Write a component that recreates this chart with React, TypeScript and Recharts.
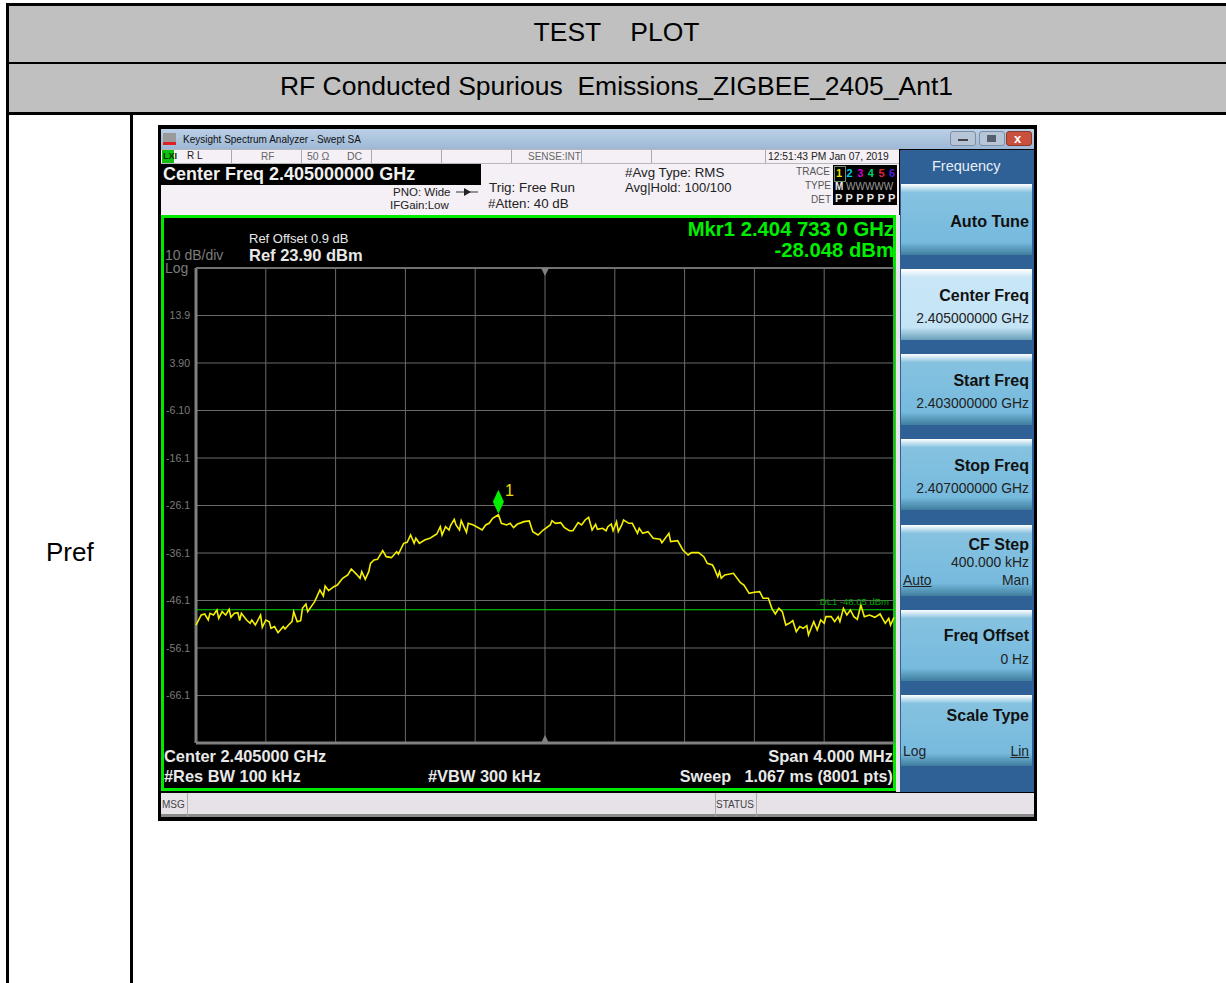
import { LineChart, Line, XAxis, YAxis, CartesianGrid, ReferenceLine, ReferenceDot } from "recharts";

const traceFreq = [
  2403.0, 2403.03, 2403.05, 2403.07, 2403.08, 2403.1, 2403.12, 2403.13, 2403.15, 2403.17, 2403.19, 2403.2, 2403.22, 2403.24, 2403.25, 2403.26, 2403.29, 2403.31, 2403.32, 2403.34,
  2403.37, 2403.38, 2403.4, 2403.42, 2403.43, 2403.45, 2403.47, 2403.5, 2403.51, 2403.53, 2403.55, 2403.56, 2403.58, 2403.6, 2403.61, 2403.63, 2403.64, 2403.68, 2403.71, 2403.73,
  2403.74, 2403.76, 2403.79, 2403.81, 2403.84, 2403.87, 2403.89, 2403.92, 2403.94, 2403.95, 2403.97, 2403.99, 2404.0, 2404.02, 2404.04, 2404.07, 2404.09, 2404.12, 2404.15, 2404.16,
  2404.19, 2404.21, 2404.23, 2404.25, 2404.26, 2404.28, 2404.31, 2404.34, 2404.37, 2404.38, 2404.4, 2404.41, 2404.43, 2404.45, 2404.46, 2404.48, 2404.49, 2404.51, 2404.52, 2404.55,
  2404.56, 2404.59, 2404.64, 2404.66, 2404.68, 2404.7, 2404.733, 2404.75, 2404.78, 2404.8, 2404.82, 2404.84, 2404.88, 2404.91, 2404.93, 2404.96, 2404.99, 2405.03, 2405.04, 2405.06,
  2405.09, 2405.11, 2405.14, 2405.16, 2405.19, 2405.21, 2405.23, 2405.25, 2405.27, 2405.29, 2405.3, 2405.33, 2405.35, 2405.36, 2405.38, 2405.39, 2405.41, 2405.42, 2405.44, 2405.45,
  2405.48, 2405.5, 2405.53, 2405.54, 2405.56, 2405.59, 2405.62, 2405.66, 2405.67, 2405.71, 2405.72, 2405.76, 2405.79, 2405.82, 2405.84, 2405.88, 2405.91, 2405.93, 2405.96, 2405.97,
  2405.99, 2406.0, 2406.01, 2406.03, 2406.08, 2406.12, 2406.14, 2406.17, 2406.2, 2406.23, 2406.25, 2406.28, 2406.3, 2406.32, 2406.34, 2406.36, 2406.38, 2406.4, 2406.42, 2406.44,
  2406.46, 2406.48, 2406.5, 2406.51, 2406.54, 2406.56, 2406.58, 2406.6, 2406.61, 2406.64, 2406.66, 2406.68, 2406.69, 2406.71, 2406.73, 2406.75, 2406.77, 2406.79, 2406.81, 2406.83,
  2406.86, 2406.89, 2406.92, 2406.95, 2406.97, 2406.98, 2407.0,
];

const traceLevel = [
  -51.26, -49.15, -48.94, -50.2, -48.8, -49.15, -48.1, -49.86, -48.45, -49.15, -47.96, -49.64, -48.8, -48.66, -50.35, -48.8, -50.2, -50.9, -50.2, -51.26,
  -49.15, -51.75, -50.2, -50.56, -51.96, -51.6, -52.87, -51.6, -52.1, -51.26, -50.56, -48.45, -50.56, -50.35, -47.75, -46.84, -48.45, -46.35, -43.89, -45.15,
  -43.05, -44.03, -43.19, -42.84, -41.43, -40.73, -39.47, -40.59, -41.43, -40.03, -41.64, -40.03, -38.28, -37.57, -37.43, -35.61, -36.87, -37.08, -35.82, -36.31,
  -34.06, -33.85, -32.31, -34.06, -33.01, -34.06, -33.36, -33.01, -32.31, -32.1, -30.56, -32.31, -30.56, -31.26, -30.2, -29.01, -30.2, -31.26, -29.29, -31.75,
  -29.85, -30.2, -31.26, -30.2, -29.85, -28.8, -28.05, -29.85, -30.2, -29.85, -30.77, -30.06, -29.5, -29.36, -31.61, -32.31, -31.26, -30.2, -29.29, -29.85,
  -29.71, -30.7, -31.4, -31.4, -29.71, -30.2, -29.15, -28.59, -31.26, -30.06, -31.12, -30.9, -31.4, -30.55, -30.0, -31.4, -29.5, -31.6, -30.2, -29.15,
  -29.85, -29.85, -31.96, -30.9, -31.96, -31.6, -33.01, -33.22, -33.92, -31.96, -33.71, -33.5, -35.47, -36.52, -36.03, -36.03, -36.87, -38.27, -38.63, -39.33,
  -41.08, -40.03, -41.43, -40.73, -40.38, -42.34, -42.83, -44.59, -44.38, -44.24, -45.64, -45.64, -47.75, -48.94, -47.75, -48.45, -51.26, -50.9, -50.34, -52.66,
  -51.6, -51.96, -51.4, -53.36, -50.55, -52.31, -50.2, -50.9, -49.5, -49.5, -50.55, -49.5, -50.55, -47.75, -49.15, -48.1, -49.5, -50.06, -47.04, -49.5,
  -49.15, -49.64, -48.94, -50.9, -49.85, -51.26, -49.64,
];

const freqTicks = [2403, 2403.4, 2403.8, 2404.2, 2404.6, 2405, 2405.4, 2405.8, 2406.2, 2406.6, 2407];
const levelTicks = [23.9, 13.9, 3.9, -6.1, -16.1, -26.1, -36.1, -46.1, -56.1, -66.1, -76.1];
const levelLabels = ["", "13.9", "3.90", "-6.10", "-16.1", "-26.1", "-36.1", "-46.1", "-56.1", "-66.1", ""];

const softKeys = [
  { title: "Auto Tune", top: 184, selected: false },
  { title: "Center Freq", top: 269, selected: true },
  { title: "Start Freq", top: 354, selected: false },
  { title: "Stop Freq", top: 439, selected: false },
  { title: "CF Step", top: 525, selected: false },
  { title: "Freq Offset", top: 610, selected: false },
  { title: "Scale Type", top: 695, selected: false },
];

const chartData = traceFreq.map((freq, i) => ({ freq, level: traceLevel[i] }));

const SANS = "'Liberation Sans', Arial, sans-serif";

// y is the vertical centre of the line of text
function Txt({ x, y, size = 12, color = "#000", bold = false, right, children }: any) {
  const lh = Math.round(size * 0.85);
  const style: any = {
    position: "absolute",
    top: y - lh / 2,
    fontSize: size,
    lineHeight: `${lh}px`,
    color,
    fontWeight: bold ? 700 : 400,
    whiteSpace: "pre",
  };
  if (right !== undefined) style.right = 1226 - right;
  else style.left = x;
  return <div style={style}>{children}</div>;
}

function Box({ x, y, w, h, bg }: any) {
  return <div style={{ position: "absolute", left: x, top: y, width: w, height: h, background: bg }} />;
}

function Diamond({ cx, cy }: any) {
  // marker sits just above the peak
  return <polygon points={`${cx},${cy - 25} ${cx + 5.5},${cy - 13} ${cx},${cy - 1} ${cx - 5.5},${cy - 13}`} fill="#00f000" />;
}

function TopArrow({ cx, cy }: any) {
  return <polygon points={`${cx - 4},${cy} ${cx + 4},${cy} ${cx},${cy + 8}`} fill="#808080" />;
}

function BottomArrow({ cx, cy }: any) {
  return <polygon points={`${cx - 4},${cy} ${cx + 4},${cy} ${cx},${cy - 8}`} fill="#808080" />;
}

function SpectrumPlot() {
  return (
    <LineChart
      width={733}
      height={483}
      data={chartData}
      margin={{ top: 4, right: 1, bottom: 4, left: 0 }}
      style={{ position: "absolute", left: 162, top: 264 }}
    >
      <CartesianGrid stroke="#6a6a6a" strokeWidth={1} />
      <XAxis dataKey="freq" type="number" domain={[2403, 2407]} ticks={freqTicks} hide />
      <YAxis
        type="number"
        domain={[-76.1, 23.9]}
        ticks={levelTicks}
        interval={0}
        width={34}
        axisLine={false}
        tickLine={false}
        tickMargin={0}
        tick={{ fill: "#7c7c7c", fontSize: 10.5, fontFamily: SANS }}
        tickFormatter={(v: number) => levelLabels[levelTicks.indexOf(v)]}
      />
      <ReferenceLine x={2403} stroke="#808080" strokeWidth={3} />
      <ReferenceLine y={-76.1} stroke="#808080" strokeWidth={3} />
      <ReferenceLine y={23.9} stroke="#707070" strokeWidth={2} />
      <ReferenceDot x={2405} y={23.9} shape={TopArrow} />
      <ReferenceDot x={2405} y={-76.1} shape={BottomArrow} />
      <ReferenceLine
        y={-48.05}
        stroke="#00d800"
        strokeWidth={1}
        label={{ value: "DL1 -48.05 dBm", position: "insideBottomRight", fill: "#00a800", fontSize: 9.5, fontFamily: SANS }}
      />
      <Line dataKey="level" type="linear" stroke="#f4f000" strokeWidth={1.6} dot={false} isAnimationActive={false} />
      <ReferenceDot x={2404.733} y={-28.048} shape={Diamond} />
    </LineChart>
  );
}

export default function App() {
  return (
    <div style={{ position: "absolute", left: 0, top: 0, width: 1226, height: 983, overflow: "hidden", background: "#fff", fontFamily: SANS }}>
      {/* report table */}
      <Box x={6} y={3} w={1220} h={110} bg="#c0c0c0" />
      <Box x={6} y={3} w={1220} h={3} bg="#000" />
      <Box x={6} y={62} w={1220} h={2} bg="#000" />
      <Box x={6} y={112} w={1220} h={3} bg="#000" />
      <Box x={6} y={3} w={3} h={980} bg="#000" />
      <Box x={130} y={113} w={3} h={870} bg="#000" />
      <div style={{ position: "absolute", left: 7, width: 1219, top: 17, textAlign: "center", fontSize: 26.5, lineHeight: "30px", whiteSpace: "pre" }}>TEST    PLOT</div>
      <div style={{ position: "absolute", left: 7, width: 1219, top: 71, textAlign: "center", fontSize: 26.5, lineHeight: "30px", whiteSpace: "pre" }}>RF Conducted Spurious  Emissions_ZIGBEE_2405_Ant1</div>
      <Txt x={46} y={552} size={26}>Pref</Txt>

      {/* analyzer window */}
      <Box x={158} y={125} w={879} h={696} bg="#000" />
      <div style={{ position: "absolute", left: 161, top: 129, width: 873, height: 20, background: "linear-gradient(#bcd0e6, #9db8d6)" }} />
      <Box x={163} y={133} w={13} h={9} bg="#9a9a9a" />
      <Box x={163} y={142} w={13} h={3} bg="#e02020" />
      <Txt x={183} y={139} size={10} color="#111">Keysight Spectrum Analyzer - Swept SA</Txt>
      <div style={{ position: "absolute", left: 950, top: 131, width: 26, height: 15, borderRadius: 3, background: "#b6c6d8", border: "1px solid #7f8ea0", boxSizing: "border-box" }} />
      <div style={{ position: "absolute", left: 979, top: 131, width: 26, height: 15, borderRadius: 3, background: "#b6c6d8", border: "1px solid #7f8ea0", boxSizing: "border-box" }} />
      <div style={{ position: "absolute", left: 1006, top: 131, width: 26, height: 15, borderRadius: 3, background: "#c8503c", border: "1px solid #8a3a2c", boxSizing: "border-box" }} />
      <Box x={958} y={139} w={10} h={2} bg="#444" />
      <Box x={987} y={135} w={9} h={7} bg="#56606c" />
      <Txt x={1014} y={138} size={13} bold color="#fff">x</Txt>

      {/* status strip */}
      <Box x={161} y={149} w={738} h={67} bg="#f4f0f6" />
      <Box x={161} y={149} w={738} h={1} bg="#b8b8b8" />
      <Box x={161} y={163} w={738} h={1} bg="#b8b8b8" />
      <Box x={162} y={150} w={12} h={13} bg="#10c010" />
      <Txt x={163} y={156} size={9} bold color="#003000">LXI</Txt>
      <Txt x={187} y={155} size={10} color="#222">R L</Txt>
      <Txt x={261} y={156} size={10} color="#666">RF</Txt>
      <Txt x={307} y={156} size={10.5} color="#666">50 Ω</Txt>
      <Txt x={347} y={156} size={10.5} color="#666">DC</Txt>
      <Txt x={528} y={156} size={10} color="#666">SENSE:INT</Txt>
      {[231, 301, 371, 441, 511, 581, 651, 765].map((x) => <Box key={x} x={x} y={150} w={1} h={13} bg="#aaa" />)}
      <Txt x={768} y={156} size={10.3} color="#222">12:51:43 PM Jan 07, 2019</Txt>
      <Box x={161} y={164} w={320} h={21} bg="#000" />
      <Txt x={163} y={174} size={18} bold color="#f0f0f0">Center Freq 2.405000000 GHz</Txt>
      <Txt x={393} y={192} size={11.5} color="#222">PNO: Wide</Txt>
      <Txt x={390} y={205} size={11.5} color="#222">IFGain:Low</Txt>
      <svg style={{ position: "absolute", left: 456, top: 186, width: 24, height: 12 }}>
        <line x1={0} y1={6} x2={22} y2={6} stroke="#333" />
        <polygon points="8,2 8,10 15,6" fill="#222" />
      </svg>
      <Txt x={489} y={187} size={13.4} color="#222">Trig: Free Run</Txt>
      <Txt x={488} y={203} size={13.3} color="#222">#Atten: 40 dB</Txt>
      <Txt x={625} y={172} size={13.3} color="#222">#Avg Type: RMS</Txt>
      <Txt x={625} y={187} size={13} color="#222">Avg|Hold: 100/100</Txt>
      <Txt right={830} y={171} size={10} color="#555">TRACE</Txt>
      <Txt right={831} y={185} size={10} color="#555">TYPE</Txt>
      <Txt right={831} y={199} size={10} color="#555">DET</Txt>
      <Box x={833} y={165} w={64} h={40} bg="#000" />
      <div style={{ position: "absolute", left: 834, top: 166, width: 10, height: 14, border: "1px solid #6f8f6f" }} />
      {["#e8e000", "#00c8e0", "#d000d0", "#00d070", "#e02040", "#5020e0"].map((c, i) => (
        <Txt key={c} x={836 + i * 10.6} y={173} size={11} bold color={c}>{i + 1}</Txt>
      ))}
      <Txt x={835} y={186} size={10} bold color="#e8e8e8">M</Txt>
      <Txt x={846} y={186} size={10} color="#9a9a9a">WWWWW</Txt>
      {[0, 1, 2, 3, 4, 5].map((i) => <Txt key={i} x={835 + i * 10.6} y={198} size={11} bold color="#e8e8e8">P</Txt>)}

      {/* screen */}
      <Box x={161} y={215} w={735} h={576} bg="#00ea00" />
      <Box x={164} y={218} w={729} h={570} bg="#000" />
      <Box x={896} y={215} w={4} h={577} bg="#e8e4ec" />
      <Txt x={249} y={238.5} size={13} color="#e8e8e8">Ref Offset 0.9 dB</Txt>
      <Txt x={249} y={254.5} size={16.5} bold color="#e8e8e8">Ref 23.90 dBm</Txt>
      <Txt x={165} y={254.5} size={14} color="#7c7c7c">10 dB/div</Txt>
      <Txt x={165} y={268} size={14} color="#7c7c7c">Log</Txt>
      <Txt right={894} y={229} size={20.3} bold color="#00ee00">Mkr1 2.404 733 0 GHz</Txt>
      <Txt right={894} y={250} size={20.3} bold color="#00ee00">-28.048 dBm</Txt>
      <SpectrumPlot />
      <Txt x={505} y={491} size={16} color="#e8e000">1</Txt>
      <Txt x={164} y={756} size={16.4} bold color="#e8e8e8">Center 2.405000 GHz</Txt>
      <Txt x={164} y={776} size={16.4} bold color="#e8e8e8">#Res BW 100 kHz</Txt>
      <Txt x={428} y={776} size={16.4} bold color="#e8e8e8">#VBW 300 kHz</Txt>
      <Txt right={893} y={756} size={16.5} bold color="#e8e8e8">Span 4.000 MHz</Txt>
      <Txt right={893} y={776} size={16.2} bold color="#e8e8e8">Sweep   1.067 ms (8001 pts)</Txt>

      {/* soft keys */}
      <Box x={900} y={150} w={134} h={642} bg="#2f6096" />
      <Txt x={932} y={166} size={14.5} color="#e8eef6">Frequency</Txt>
      {softKeys.map((k) => (
        <div key={k.title} style={{
          position: "absolute", left: 901, top: k.top, width: 131, height: 71,
          background: k.selected
            ? "linear-gradient(#ffffff 0%, #c8e6f6 12%, #c4e4f6 82%, #6aa0b8 100%)"
            : "linear-gradient(#ffffff 0%, #86c2e0 12%, #76bade 82%, #3f7d9c 100%)",
        }} />
      ))}
      <Txt right={1029} y={221} size={16.2} bold color="#111">Auto Tune</Txt>
      <Txt right={1029} y={295.5} size={16} bold color="#111">Center Freq</Txt>
      <Txt right={1029} y={318} size={13.9} color="#222">2.405000000 GHz</Txt>
      <Txt right={1029} y={380.5} size={16} bold color="#111">Start Freq</Txt>
      <Txt right={1029} y={403} size={13.9} color="#222">2.403000000 GHz</Txt>
      <Txt right={1029} y={465.5} size={16} bold color="#111">Stop Freq</Txt>
      <Txt right={1029} y={488} size={13.9} color="#222">2.407000000 GHz</Txt>
      <Txt right={1029} y={544.5} size={16} bold color="#111">CF Step</Txt>
      <Txt right={1029} y={562} size={13.9} color="#222">400.000 kHz</Txt>
      <Txt x={903} y={580} size={13.9} color="#222"><u>Auto</u></Txt>
      <Txt right={1029} y={580} size={13.9} color="#222">Man</Txt>
      <Txt right={1029} y={635.5} size={16} bold color="#111">Freq Offset</Txt>
      <Txt right={1029} y={659} size={13.9} color="#222">0 Hz</Txt>
      <Txt right={1029} y={715.5} size={16} bold color="#111">Scale Type</Txt>
      <Txt x={903} y={751} size={13.9} color="#222">Log</Txt>
      <Txt right={1029} y={751} size={13.9} color="#222"><u>Lin</u></Txt>

      {/* message bar */}
      <Box x={161} y={793} w={873} h={21} bg="#e6e2e8" />
      <Box x={161} y={814} w={873} h={3} bg="#8a8a8a" />
      <Box x={187} y={793} w={1} h={24} bg="#aaa" />
      <Box x={715} y={793} w={1} h={24} bg="#aaa" />
      <Box x={756} y={793} w={1} h={24} bg="#aaa" />
      <Txt x={162} y={804} size={10} color="#444">MSG</Txt>
      <Txt x={716} y={804} size={10} color="#444">STATUS</Txt>
    </div>
  );
}
